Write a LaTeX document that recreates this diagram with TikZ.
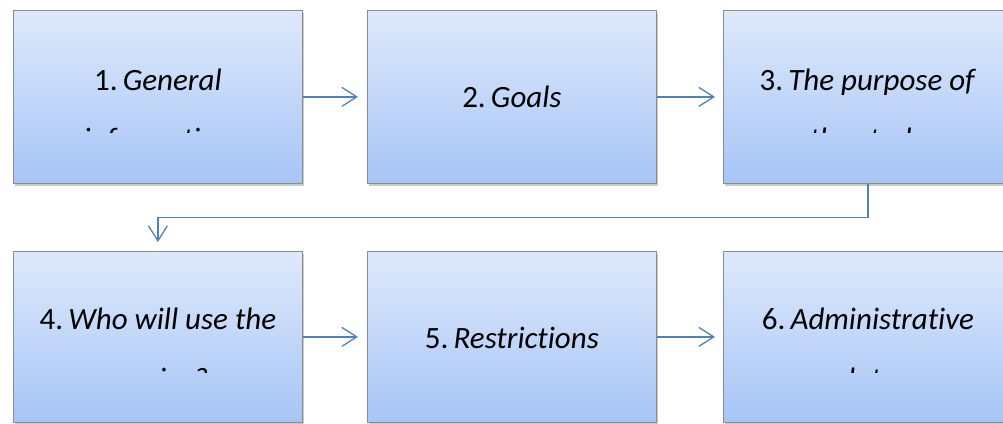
\documentclass[tikz,border=0pt]{standalone}
\usepackage{fontspec}
\setmainfont{Carlito}[Ligatures={NoCommon}]
\usetikzlibrary{arrows.meta,shadows,calc}
\definecolor{arrblue}{RGB}{79,129,189}
\definecolor{boxtop}{RGB}{222,233,251}
\definecolor{boxbot}{RGB}{166,197,246}
\definecolor{boxline}{RGB}{140,140,140}
\tikzset{
  stepbox/.style={rectangle, anchor=north west, inner sep=0pt,
    minimum width=289pt, minimum height=173pt,
    draw=boxline, line width=0.8pt,
    top color=boxtop, bottom color=boxbot,
    drop shadow={shadow xshift=1.5pt, shadow yshift=-2.5pt, opacity=0.35, fill=black!60}},
  lbl/.style={anchor=base, inner sep=0pt, font=\fontsize{31}{37}\selectfont, text=black},
  arr/.style={draw=arrblue, line width=1.3pt, -{Straight Barb[length=15pt,width=19pt,line width=1.3pt]}}
}
\begin{document}
\begin{tikzpicture}[x=1pt,y=1pt]
\useasboundingbox (0,0) rectangle (1003,423);
% boxes (y measured upward; image top = 423)
\node[stepbox] (b1) at (13,413) {};
\node[stepbox] (b2) at (367,413) {};
\node[stepbox] (b3) at (723,413) {};
\node[stepbox, minimum height=171pt] (b4) at (13,172) {};
\node[stepbox, minimum height=171pt] (b5) at (367,172) {};
\node[stepbox, minimum height=171pt] (b6) at (723,172) {};
% single-line labels
\node[lbl] (t2) at ([yshift=-98pt]b2.north) {2.\,\textit{Goals}};
\node[lbl] (t5) at ([yshift=-97pt]b5.north) {5.\,\textit{Restrictions}};
% two-line labels, second line clipped
\node[lbl] (t1a) at ([yshift=-81pt]b1.north) {1.\,\textit{General}};
\node[lbl] (t3a) at ([yshift=-81pt]b3.north) {3.\,\textit{The purpose of}};
\node[lbl] (t4a) at ([yshift=-78pt]b4.north) {4.\,\textit{Who will use the}};
\node[lbl] (t6a) at ([yshift=-78pt]b6.north) {6.\,\textit{Administrative}};
\begin{scope}
  \clip (b1.north west) rectangle ([yshift=-123pt]b1.north east);
  \node[lbl] (t1b) at ([yshift=-140pt]b1.north) {\textit{information}};
\end{scope}
\begin{scope}
  \clip (b3.north west) rectangle ([yshift=-123pt]b3.north east);
  \node[lbl] (t3b) at ([yshift=-140pt]b3.north) {\textit{the study}};
\end{scope}
\begin{scope}
  \clip (b4.north west) rectangle ([yshift=-121pt]b4.north east);
  \node[lbl] (t4b) at ([yshift=-138pt]b4.north) {\textit{service?}};
\end{scope}
\begin{scope}
  \clip (b6.north west) rectangle ([yshift=-121pt]b6.north east);
  \node[lbl] (t6b) at ([yshift=-138pt]b6.north) {\textit{data}};
\end{scope}
% connectors
\coordinate (e2) at ([xshift=-9pt]b2.west);
\coordinate (e3) at ([xshift=-8pt]b3.west);
\coordinate (e5) at ([xshift=-9pt]b5.west);
\coordinate (e6) at ([xshift=-8pt]b6.west);
\coordinate (e4) at ([yshift=9pt]b4.north);
\draw[arr] (b1.east) -- (e2);
\draw[arr] (b2.east) -- (e3);
\draw[arr] (b4.east) -- (e5);
\draw[arr] (b5.east) -- (e6);
\draw[arr] (b3.south) -- ++(0,-34) -| (e4);
\end{tikzpicture}
\end{document}
